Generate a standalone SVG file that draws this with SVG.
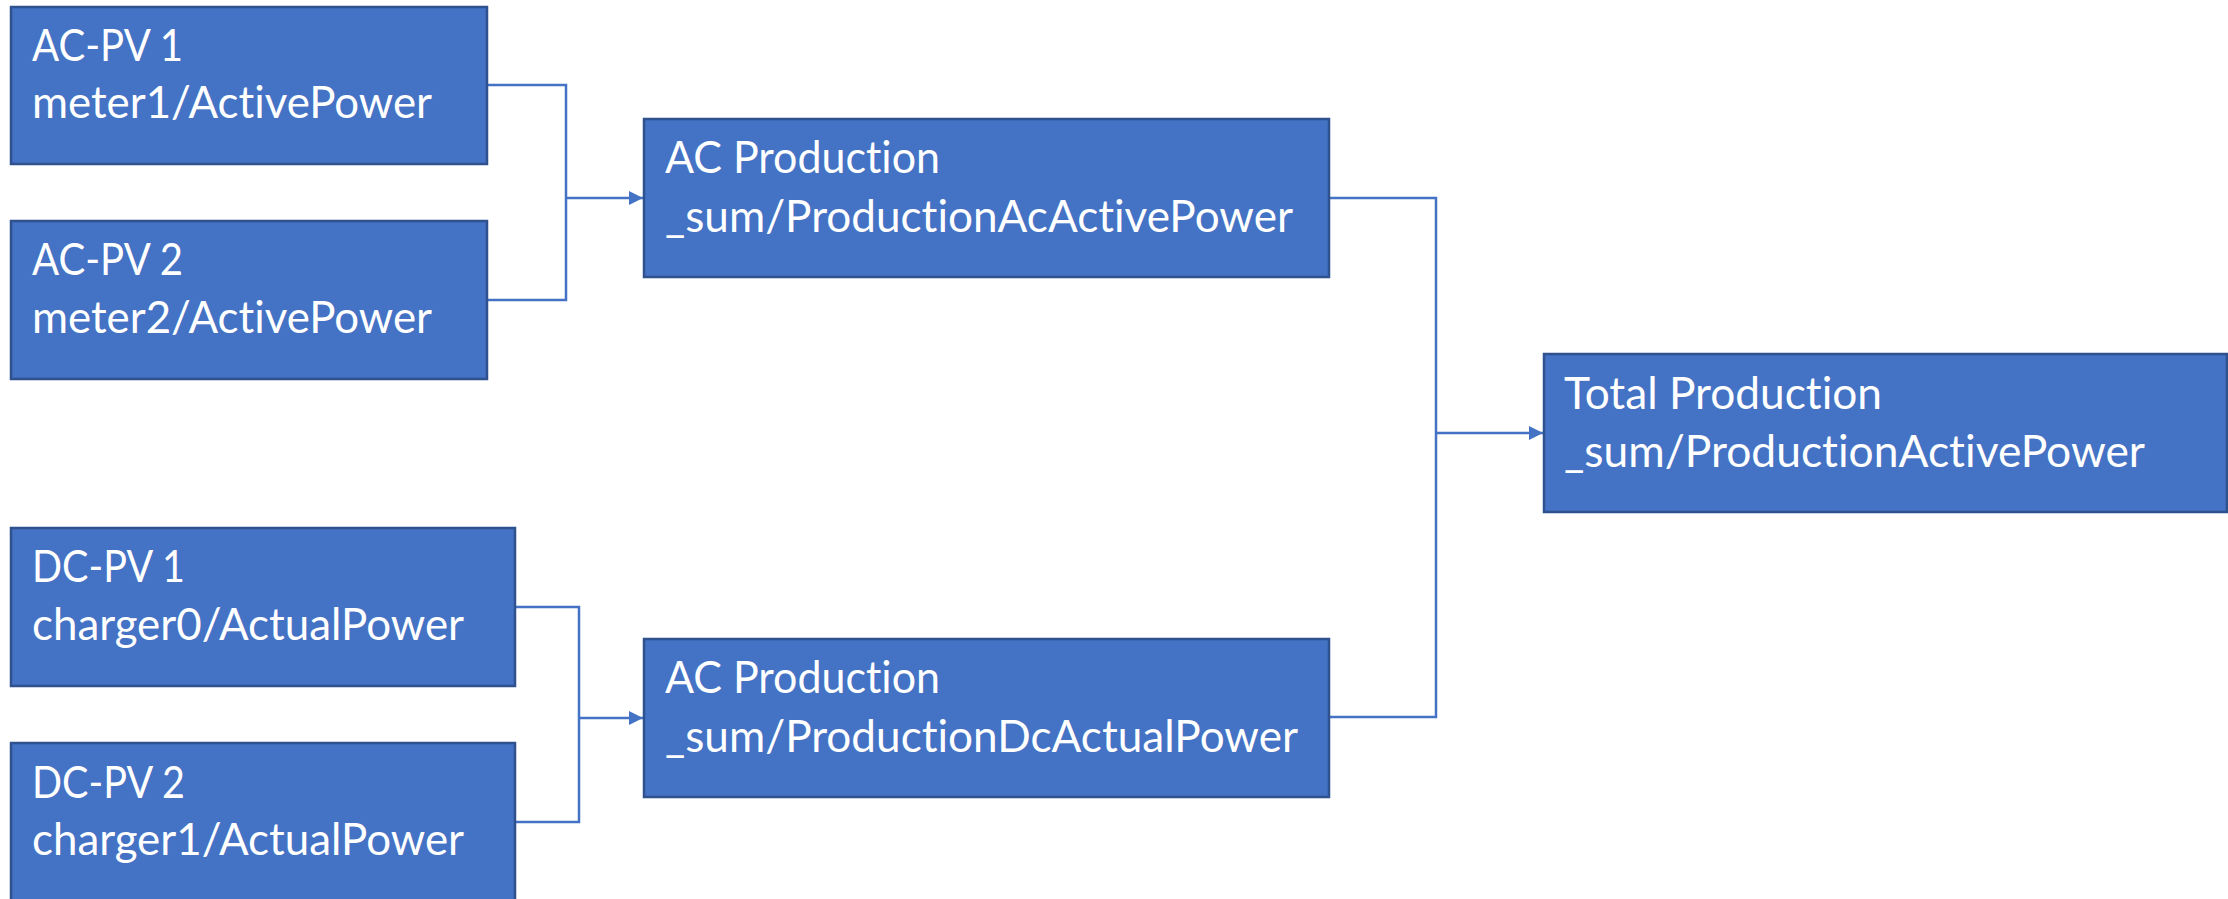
<svg xmlns="http://www.w3.org/2000/svg" width="2228" height="899" viewBox="0 0 2228 899">
<defs>
<style>
.box{fill:#4472C4;stroke:#2F528F;stroke-width:2.5}
.t{font-family:Lato,"Open Sans","Liberation Sans",sans-serif;font-size:44px;fill:#FFFFFF;font-variant-ligatures:none}
.c{fill:none;stroke:#4472C4;stroke-width:2.5}
</style>
<marker id="arr" viewBox="0 0 10 10" refX="10" refY="5" markerWidth="14" markerHeight="14" markerUnits="userSpaceOnUse" orient="auto">
<path d="M0,0 L10,5 L0,10 z" fill="#4472C4"/>
</marker>
</defs>
<rect width="2228" height="899" fill="#FFFFFF"/>
<g id="connectors">
<path class="c" d="M487,85 H566 V300 H487"/>
<path class="c" d="M566,198 H643" marker-end="url(#arr)"/>
<path class="c" d="M515,607 H579 V822 H515"/>
<path class="c" d="M579,718 H643" marker-end="url(#arr)"/>
<path class="c" d="M1329,198 H1436 V717 H1329"/>
<path class="c" d="M1436,433 H1543" marker-end="url(#arr)"/>
</g>
<g id="acpv1">
<rect class="box" x="11" y="7" width="476" height="157"/>
<text class="t" x="32" y="61" textLength="151" lengthAdjust="spacingAndGlyphs">AC-PV 1</text>
<text class="t" x="32" y="118" textLength="400" lengthAdjust="spacingAndGlyphs">meter1/ActivePower</text>
</g>
<g id="acpv2">
<rect class="box" x="11" y="221" width="476" height="158"/>
<text class="t" x="32" y="275" textLength="151" lengthAdjust="spacingAndGlyphs">AC-PV 2</text>
<text class="t" x="32" y="333" textLength="400" lengthAdjust="spacingAndGlyphs">meter2/ActivePower</text>
</g>
<g id="dcpv1">
<rect class="box" x="11" y="528" width="504" height="158"/>
<text class="t" x="32" y="582" textLength="153" lengthAdjust="spacingAndGlyphs">DC-PV 1</text>
<text class="t" x="32" y="640" textLength="432" lengthAdjust="spacingAndGlyphs">charger0/ActualPower</text>
</g>
<g id="dcpv2">
<rect class="box" x="11" y="743" width="504" height="160"/>
<text class="t" x="32" y="798" textLength="153" lengthAdjust="spacingAndGlyphs">DC-PV 2</text>
<text class="t" x="32" y="855" textLength="432" lengthAdjust="spacingAndGlyphs">charger1/ActualPower</text>
</g>
<g id="acprod">
<rect class="box" x="644" y="119" width="685" height="158"/>
<text class="t" x="665" y="173" textLength="275" lengthAdjust="spacingAndGlyphs">AC Production</text>
<text class="t" x="665" y="232" textLength="628" lengthAdjust="spacingAndGlyphs">_sum/ProductionAcActivePower</text>
</g>
<g id="dcprod">
<rect class="box" x="644" y="639" width="685" height="158"/>
<text class="t" x="665" y="693" textLength="275" lengthAdjust="spacingAndGlyphs">AC Production</text>
<text class="t" x="665" y="752" textLength="633" lengthAdjust="spacingAndGlyphs">_sum/ProductionDcActualPower</text>
</g>
<g id="total">
<rect class="box" x="1544" y="354" width="683" height="158"/>
<text class="t" x="1564" y="409" textLength="318" lengthAdjust="spacingAndGlyphs">Total Production</text>
<text class="t" x="1564" y="467" textLength="581" lengthAdjust="spacingAndGlyphs">_sum/ProductionActivePower</text>
</g>
</svg>
